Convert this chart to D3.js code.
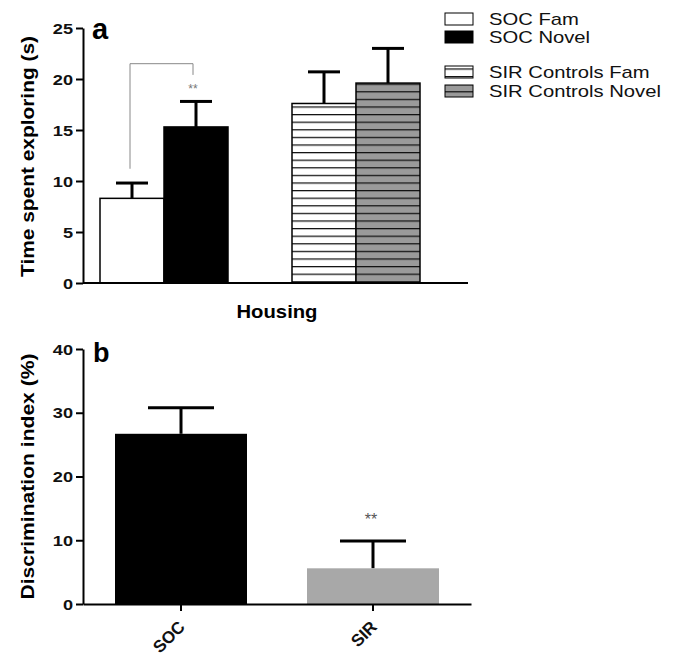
<!DOCTYPE html>
<html>
<head>
<meta charset="utf-8">
<script src="https://cdn.jsdelivr.net/npm/d3@7"></script>
<style>
  body { margin: 0; background: #fff; }
  svg { display: block; font-family: "Liberation Sans", Arial, sans-serif; }
</style>
</head>
<body>
<svg id="chart" width="677" height="658"></svg>
<script>
// panel a data
const slotsA = ["SOC Fam", "SOC Novel", "gap", "SIR Controls Fam", "SIR Controls Novel"];
const groupsA = ["SOC Fam", "SOC Novel", "SIR Controls Fam", "SIR Controls Novel"];
const meansA = [8.3, 15.3, 17.6, 19.6];
const semA = [1.5, 2.5, 3.1, 3.4];
const ticksA = [0, 5, 10, 15, 20, 25];

// panel b data
const groupsB = ["SOC", "SIR"];
const meansB = [26.7, 5.6];
const semB = [4.1, 4.3];
const ticksB = [0, 10, 20, 30, 40];

let svg = d3.select("#chart");

// hatch patterns for the SIR bars
let defs = svg.append("defs");
function hatch(id, bg) {
    let p = defs.append("pattern")
        .attr("id", id)
        .attr("patternUnits", "userSpaceOnUse")
        .attr("width", 10)
        .attr("height", 7.6);
    p.append("rect").attr("width", 10).attr("height", 7.6).attr("fill", bg);
    p.append("line").attr("x1", 0).attr("x2", 10).attr("y1", 0.6).attr("y2", 0.6)
        .attr("stroke", "#111").attr("stroke-width", 1.3);
}
hatch("hatchWhite", "#fff");
hatch("hatchGray", "#9a9a9a");

const fillsA = {
    "SOC Fam": "#fff",
    "SOC Novel": "#000",
    "SIR Controls Fam": "url(#hatchWhite)",
    "SIR Controls Novel": "url(#hatchGray)"
};

// the original text is a bit wider than Liberation Sans, stretch it horizontally
function yAxis(g, y, ticks) {
    g.call(d3.axisLeft(y).tickValues(ticks).tickSize(7).tickSizeOuter(0));
    g.select(".domain").attr("stroke-width", 2);
    g.selectAll(".tick line").attr("stroke-width", 2);
    g.selectAll(".tick text")
        .attr("x", null)
        .attr("dy", "0.36em")
        .attr("transform", "translate(-10,0) scale(1.3,1)")
        .attr("font-size", 14).attr("font-weight", "bold").attr("fill", "#111")
        .attr("font-family", "Liberation Sans, Arial, sans-serif");
}

// ---------- panel a ----------
let yA = d3.scaleLinear().domain([0, 25]).range([283, 28]);
let xA = d3.scaleBand().domain(slotsA).range([100, 420]).padding(0);
let axisEndA = 468;

let gA = svg.append("g");

// error bars (drawn first, bars cover the lower half)
groupsA.forEach((gname, i) => {
    let cx = xA(gname) + xA.bandwidth() / 2;
    gA.append("line").attr("x1", cx).attr("x2", cx)
        .attr("y1", yA(meansA[i])).attr("y2", yA(meansA[i] + semA[i]))
        .attr("stroke", "#000").attr("stroke-width", 3);
    gA.append("line").attr("x1", cx - 16).attr("x2", cx + 16)
        .attr("y1", yA(meansA[i] + semA[i])).attr("y2", yA(meansA[i] + semA[i]))
        .attr("stroke", "#000").attr("stroke-width", 3);
});

gA.selectAll(".barA")
    .data(groupsA)
    .enter().append("rect")
    .attr("class", "barA")
    .attr("x", d => xA(d))
    .attr("width", xA.bandwidth())
    .attr("y", (d, i) => yA(meansA[i]))
    .attr("height", (d, i) => yA(0) - yA(meansA[i]))
    .attr("fill", d => fillsA[d])
    .attr("stroke", "#000")
    .attr("stroke-width", 1.5);

// significance bracket
let c0 = xA("SOC Fam") + xA.bandwidth() / 2 - 2;
let c1 = xA("SOC Novel") + xA.bandwidth() / 2 - 3;
gA.append("path")
    .attr("d", `M${c0},${yA(11.2)}V${yA(21.5)}H${c1}V${yA(20.4)}`)
    .attr("fill", "none").attr("stroke", "#888").attr("stroke-width", 1);
gA.append("text").attr("x", c1).attr("y", yA(18.6))
    .attr("text-anchor", "middle").attr("font-size", 12).attr("fill", "#777").text("**");

// axes
gA.append("line").attr("x1", 83).attr("x2", axisEndA).attr("y1", yA(0)).attr("y2", yA(0))
    .attr("stroke", "#000").attr("stroke-width", 2);
gA.append("g").attr("transform", "translate(83,0)").call(g => yAxis(g, yA, ticksA));

gA.append("text").attr("x", 92).attr("y", 39).attr("font-size", 29).attr("font-weight", "bold").text("a");
gA.append("text").attr("transform", `translate(34,${(yA(0) + yA(25)) / 2 + 1}) rotate(-90)`)
    .attr("text-anchor", "middle").attr("font-size", 18).attr("font-weight", "bold")
    .attr("textLength", 241).attr("lengthAdjust", "spacingAndGlyphs")
    .text("Time spent exploring (s)");
gA.append("text").attr("x", 277).attr("y", 318).attr("text-anchor", "middle")
    .attr("font-size", 18).attr("font-weight", "bold")
    .attr("textLength", 81).attr("lengthAdjust", "spacingAndGlyphs")
    .text("Housing");

// legend
let legendY = [25, 43, 78, 97];
let legend = svg.append("g");
groupsA.forEach((gname, i) => {
    legend.append("rect").attr("x", 445).attr("y", legendY[i] - 12).attr("width", 28).attr("height", 12)
        .attr("fill", fillsA[gname]).attr("stroke", "#000").attr("stroke-width", 1);
    legend.append("text").attr("transform", `translate(489,${legendY[i]}) scale(1.19,1)`)
        .attr("font-size", 17).attr("fill", "#111").text(gname);
});

// ---------- panel b ----------
let yB = d3.scaleLinear().domain([0, 40]).range([604, 349]);
let xB = d3.scaleBand().domain(groupsB).range([83, 471]).paddingInner(0.3125).paddingOuter(0.1667);
const fillsB = ["#000", "#a8a8a8"];

let gB = svg.append("g");

groupsB.forEach((gname, i) => {
    let cx = xB(gname) + xB.bandwidth() / 2;
    gB.append("line").attr("x1", cx).attr("x2", cx)
        .attr("y1", yB(meansB[i])).attr("y2", yB(meansB[i] + semB[i]))
        .attr("stroke", "#000").attr("stroke-width", 3);
    gB.append("line").attr("x1", cx - 33).attr("x2", cx + 33)
        .attr("y1", yB(meansB[i] + semB[i])).attr("y2", yB(meansB[i] + semB[i]))
        .attr("stroke", "#000").attr("stroke-width", 3);
});

gB.selectAll(".barB")
    .data(groupsB)
    .enter().append("rect")
    .attr("class", "barB")
    .attr("x", d => xB(d))
    .attr("width", xB.bandwidth())
    .attr("y", (d, i) => yB(meansB[i]))
    .attr("height", (d, i) => yB(0) - yB(meansB[i]))
    .attr("fill", (d, i) => fillsB[i]);

gB.append("text").attr("x", xB("SIR") + xB.bandwidth() / 2 - 2).attr("y", yB(12.4))
    .attr("text-anchor", "middle").attr("font-size", 16).attr("fill", "#555").text("**");

// x axis b
let xAxisB = gB.append("g").attr("transform", `translate(0,${yB(0)})`)
    .call(d3.axisBottom(xB).tickSize(7).tickSizeOuter(0));
xAxisB.select(".domain").attr("stroke-width", 2);
xAxisB.selectAll(".tick line").attr("stroke-width", 2);
xAxisB.selectAll(".tick text")
    .attr("font-size", 17).attr("font-weight", "bold").attr("fill", "#111")
    .attr("font-family", "Liberation Sans, Arial, sans-serif")
    .attr("text-anchor", "end")
    .attr("dy", null).attr("y", null)
    .attr("transform", "translate(5,24) rotate(-45)");

gB.append("g").attr("transform", "translate(83,0)").call(g => yAxis(g, yB, ticksB));

gB.append("text").attr("x", 93).attr("y", 362).attr("font-size", 27).attr("font-weight", "bold").text("b");
gB.append("text").attr("transform", `translate(34,${(yB(0) + yB(40)) / 2}) rotate(-90)`)
    .attr("text-anchor", "middle").attr("font-size", 18).attr("font-weight", "bold")
    .attr("textLength", 246).attr("lengthAdjust", "spacingAndGlyphs")
    .text("Discrimination index (%)");
</script>
</body>
</html>
